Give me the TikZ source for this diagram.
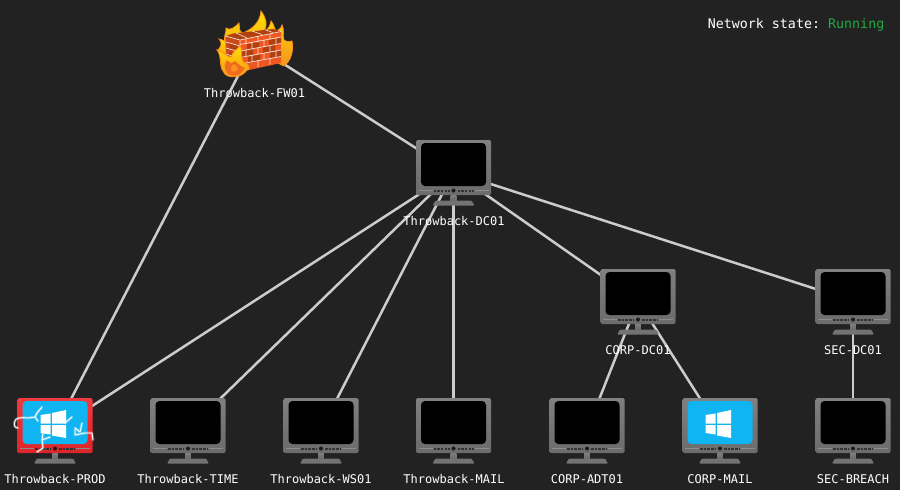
\documentclass[tikz,border=0pt]{standalone}
\usepackage{fontspec}
\setmonofont{DejaVu Sans Mono}
\definecolor{bgc}{HTML}{222222}
\definecolor{edgec}{HTML}{CCCCCC}
\definecolor{winblue}{HTML}{10B4F0}
\definecolor{redf}{HTML}{EE2A2E}
\definecolor{framegray}{HTML}{757575}
\definecolor{runc}{HTML}{22A83F}
\definecolor{brick}{HTML}{F0561F}
\definecolor{brickd}{HTML}{B23F10}
\definecolor{mortar}{HTML}{F3E6DC}
\definecolor{flameo}{HTML}{F7931E}
\definecolor{flamer}{HTML}{F26A1B}
\definecolor{flamey}{HTML}{FFE000}
\tikzset{
  hub/.style={inner sep=0pt,minimum size=0pt,outer sep=0pt},
  link/.style={draw=edgec,line width=2.5pt},
  lab/.style={text=white,font=\ttfamily\fontsize{12}{14}\selectfont,inner sep=0pt,anchor=base},
  flame/.style={top color=flamey,bottom color=flameo,draw=flameo,line width=.8pt},
  spark/.style={draw=white,line width=.9pt,line cap=round,line join=round},
  sparkglow/.style={draw=white,opacity=.28,line width=2.8pt,line cap=round,line join=round},
  pics/monitor/.style n args={2}{code={
    \shade[top color=#1!92!white,bottom color=#1!92!black,middle color=#1,rounded corners=1.5pt] (-37.5,-32) rectangle (37.5,23);
    \fill[#2,rounded corners=4pt] (-32.5,-29) rectangle (32.5,14);
    \draw[black!45,line width=.5pt] (-35,18.5) -- (-21,18.5) (21,18.5) -- (35,18.5);
    \draw[black!80,line width=2pt,dash pattern=on 2.5pt off 1.2pt] (-20,18.5) -- (-4,18.5) (4,18.5) -- (20,18.5);
    \fill[black!90] (0,18.5) circle (2);
    \shade[top color=black!50,bottom color=black!60] (-2.8,23) rectangle (2.8,29);
    \fill[black!55,rounded corners=1pt] (-18,28.5) -- (18,28.5) -- (21,33.5) -- (-21,33.5) -- cycle;
  }},
  pics/winlogo/.style={code={
    \fill[white] (-14.5,-15) -- (-4.5,-16.5) -- (-4.5,-6.5) -- (-14.5,-6.5) -- cycle
      (-3,-17) -- (11,-20) -- (11,-6.5) -- (-3,-6.5) -- cycle
      (-14.5,-5) -- (-4.5,-5) -- (-4.5,4.5) -- (-14.5,3) -- cycle
      (-3,-5) -- (11,-5) -- (11,8) -- (-3,5.5) -- cycle;
  }},
}
\newcommand{\sparkpaths}{
  (42,407) -- (37,413) -- (35,417) -- (28,418) .. controls (22,417) and (15,418) .. (15,421) .. controls (13,425) and (15,428) .. (18,428)
  (35,417) -- (38,421)
  (43,433) -- (42,440) -- (50,437)
  (42,440) -- (43,448) -- (37,452)
  (82,423) -- (80,432) -- (75,428) -- (75,435) -- (85,433) -- (92,433) -- (93,440)
  (72,417) -- (65,423)
}
\begin{document}
\begin{tikzpicture}[x=1pt,y=-1pt]
\useasboundingbox (0,0) rectangle (900,490);
\fill[bgc] (0,0) rectangle (900,490);
% anchors
\node[hub] (fw) at (254,45) {};
\node[hub] (dc) at (453.5,172) {};
\node[hub] (prod) at (55,430) {};
\node[hub] (time) at (188,430) {};
\node[hub] (ws) at (321,430) {};
\node[hub] (mail) at (453.5,430) {};
\node[hub] (adt) at (587,430) {};
\node[hub] (cmail) at (720,430) {};
\node[hub] (breach) at (853,430) {};
\node[hub] (cdc) at (638,301) {};
\node[hub] (sdc) at (853,301) {};
% links
\draw[link] (fw) -- (prod);
\draw[link] (fw) -- (dc);
\draw[link] (dc) -- (prod);
\draw[link] (dc) -- (time);
\draw[link] (dc) -- (ws);
\draw[link] (dc) -- (mail);
\draw[link] (dc) -- (cdc);
\draw[link] (dc) -- (sdc);
\draw[link] (cdc) -- (adt);
\draw[link] (cdc) -- (cmail);
\draw[link] (sdc) -- (breach);
% monitors
\pic at (dc) {monitor={framegray}{black}};
\pic at (cdc) {monitor={framegray}{black}};
\pic at (sdc) {monitor={framegray}{black}};
\pic at (time) {monitor={framegray}{black}};
\pic at (ws) {monitor={framegray}{black}};
\pic at (mail) {monitor={framegray}{black}};
\pic at (adt) {monitor={framegray}{black}};
\pic at (breach) {monitor={framegray}{black}};
\pic at (cmail) {monitor={framegray}{winblue}};
\pic at (cmail) {winlogo};
\pic at (prod) {monitor={redf}{winblue}};
\pic at (prod) {winlogo};
% lightning
\draw[sparkglow] \sparkpaths;
\draw[spark] \sparkpaths;
% firewall: back flames
\shade[flame] (226,44) .. controls (222,38) and (227,32) .. (226,28) .. controls (230,31) and (234,28) .. (239,23)
  .. controls (240,28) and (238,31) .. (243,33) .. controls (250,30) and (260,24) .. (261,11)
  .. controls (266,18) and (268,24) .. (264,31) .. controls (268,30) and (270,26) .. (271,21)
  .. controls (274,24) and (274,28) .. (276,31) .. controls (280,29) and (282,28) .. (282,25)
  .. controls (285,30) and (282,36) .. (284,40) .. controls (288,43) and (290,41) .. (292,41)
  .. controls (294,50) and (291,61) .. (284,66) -- (250,50) -- cycle;
\shade[flame] (228,60) .. controls (220,56) and (222,50) .. (218,50) .. controls (222,46) and (222,42) .. (219,39)
  .. controls (224,40) and (226,42) .. (230,44) -- cycle;
% wall
\fill[brick] (240,40) -- (281,31.5) -- (281,63) -- (240,72) -- cycle;
\fill[brick!85!black] (225.5,36) -- (240,40) -- (240,72) -- (226,61) -- cycle;
\fill[brickd] (225.5,36) -- (233,33.5) -- (273,29) -- (281,31.5) -- (240,40) -- cycle;
% darker bricks
\fill[brickd] (247,44.5) -- (259,42) -- (259,47.5) -- (247,50) -- cycle
  (269,40) -- (281,37.5) -- (281,43) -- (269,45.5) -- cycle
  (241,52) -- (253,49.5) -- (253,55) -- (241,57.5) -- cycle
  (263,47.5) -- (275,45) -- (275,50.5) -- (263,53) -- cycle
  (248,57) -- (260,54.5) -- (260,60) -- (248,62.5) -- cycle
  (270,52.5) -- (281,50.5) -- (281,56) -- (270,58) -- cycle
  (229,43) -- (238,45.5) -- (238,50) -- (229,47.5) -- cycle
  (229,52) -- (238,55) -- (238,60) -- (229,56.5) -- cycle;
\draw[mortar,line width=.65pt] (225.5,36) -- (240,40) -- (281,31.5)
  (240,44.5) -- (281,37) (240,51) -- (281,43.5) (240,57.5) -- (281,50) (240,64) -- (281,56.5)
  (226,42) -- (240,46) (226,48) -- (240,52) (226,54) -- (240,58.5)
  (240,40) -- (240,72) (246,39) -- (246,44) (258,36.5) -- (258,42) (270,34) -- (270,39.5)
  (252,42) -- (252,49) (264,40) -- (264,47) (276,38) -- (276,44.5)
  (246,49.5) -- (246,56) (258,47.5) -- (258,54) (270,45.5) -- (270,52)
  (252,55) -- (252,61.5) (264,53) -- (264,59) (276,51) -- (276,57)
  (246,62.5) -- (246,69.5) (258,60) -- (258,67) (270,58) -- (270,64.5);
\draw[mortar,line width=.6pt] (236,33) -- (247,38) (252,31) -- (262,34.5) (265,29.8) -- (273,32.5);
% front flame
\shade[flame] (223,71) .. controls (219,66) and (222,56) .. (217,50) .. controls (224,52) and (228,58) .. (231,57)
  .. controls (232,52) and (238,50) .. (240,45) .. controls (243,50) and (240,57) .. (243,62)
  .. controls (246,62) and (250,66) .. (249,69) .. controls (245,70) and (246,75) .. (236,76.5)
  .. controls (230,77.5) and (225,76) .. (223,71) -- cycle;
\fill[flamer] (226,71) .. controls (223,66) and (226,62) .. (227,60) .. controls (229,63) and (232,64) .. (235,61)
  .. controls (237,63) and (240,66) .. (245,68) .. controls (242,73) and (238,75.5) .. (234,75.5) .. controls (230,75.5) and (228,74) .. (226,71) -- cycle;
\fill[flameo] (231,70) .. controls (230,67) and (232,66) .. (234,64) .. controls (236,66) and (238,67) .. (238,69) .. controls (236,72) and (232,72.5) .. (231,70) -- cycle;
% labels
\node[lab] (lfw) at (254.5,97) {Throwback-FW01};
\node[lab] (ldc) at (454,225) {Throwback-DC01};
\node[lab] (lcdc) at (638,354) {CORP-DC01};
\node[lab] (lsdc) at (853,354) {SEC-DC01};
\node[lab] (lprod) at (55,483) {Throwback-PROD};
\node[lab] (ltime) at (188,483) {Throwback-TIME};
\node[lab] (lws) at (321,483) {Throwback-WS01};
\node[lab] (lmail) at (454,483) {Throwback-MAIL};
\node[lab] (ladt) at (587,483) {CORP-ADT01};
\node[lab] (lcmail) at (720,483) {CORP-MAIL};
\node[lab] (lbreach) at (853,483) {SEC-BREACH};
\node[text=white,font=\ttfamily\fontsize{13.33}{15}\selectfont,inner sep=0pt,anchor=base east] (state) at (884.5,28) {Network state: \textcolor{runc}{Running}};
\end{tikzpicture}
\end{document}
